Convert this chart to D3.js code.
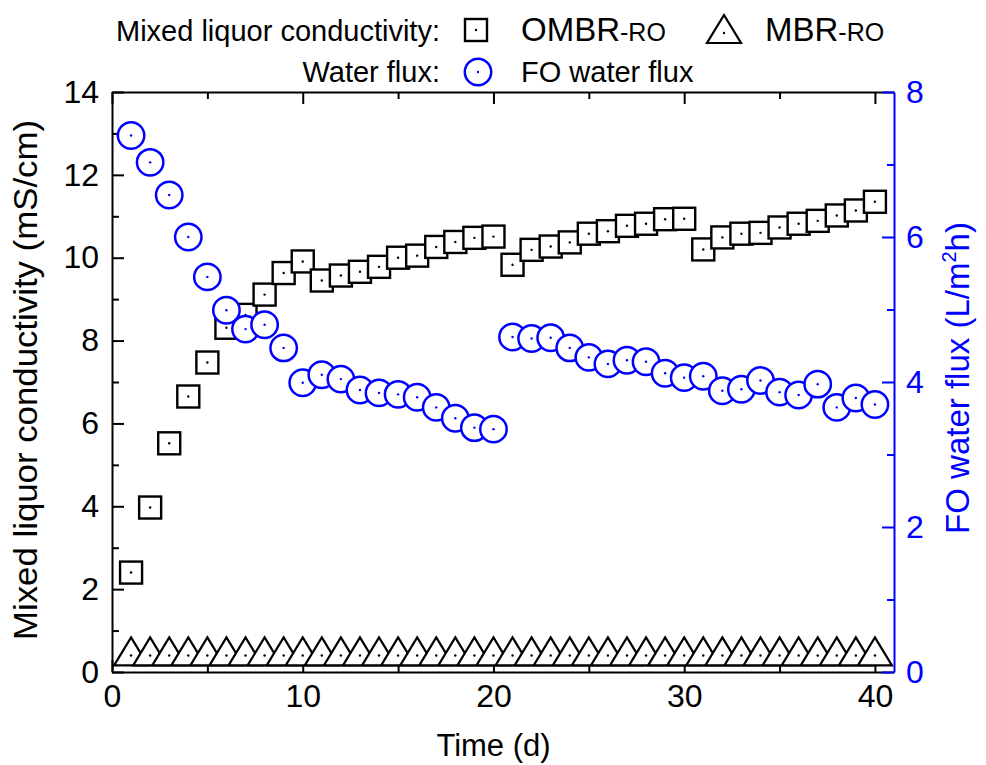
<!DOCTYPE html>
<html>
<head>
  <title>Mixed liquor conductivity and FO water flux</title>
</head>

<style>
  body { margin: 0; background: #fff; }
  text { font-family: "Liberation Sans", Arial, sans-serif; }
</style>

<body>

  <svg width="986" height="765" id="chart">
    <g id="legend"></g>
    <g id="axes"></g>
    <g id="marks"></g>
  </svg>

  <script src="https://cdnjs.cloudflare.com/ajax/libs/d3/7.8.5/d3.min.js"></script>

  <script>

// time in days
const days = [1, 2, 3, 4, 5, 6, 7, 8, 9, 10, 11, 12, 13, 14, 15, 16, 17, 18, 19, 20,
              21, 22, 23, 24, 25, 26, 27, 28, 29, 30, 31, 32, 33, 34, 35, 36, 37, 38, 39, 40];

// mixed liquor conductivity, mS/cm
const ombrCond = [2.40, 3.97, 5.52, 6.65, 7.47, 8.31, 8.62, 9.11, 9.63, 9.91,
                  9.45, 9.57, 9.66, 9.78, 10.00, 10.05, 10.26, 10.38, 10.48, 10.51,
                  9.83, 10.19, 10.27, 10.37, 10.58, 10.64, 10.77, 10.82, 10.93, 10.94,
                  10.20, 10.49, 10.58, 10.60, 10.73, 10.82, 10.89, 11.02, 11.14, 11.35];
const mbrCond = [0.40, 0.40, 0.40, 0.40, 0.40, 0.40, 0.40, 0.40, 0.40, 0.40,
                 0.40, 0.40, 0.40, 0.40, 0.40, 0.40, 0.40, 0.40, 0.40, 0.40,
                 0.40, 0.40, 0.40, 0.40, 0.40, 0.40, 0.40, 0.40, 0.40, 0.40,
                 0.40, 0.40, 0.40, 0.40, 0.40, 0.40, 0.40, 0.40, 0.40, 0.40];

// FO water flux, L/m2h
const foFlux = [7.40, 7.03, 6.58, 6.00, 5.45, 4.99, 4.73, 4.79, 4.47, 3.99,
                4.10, 4.04, 3.89, 3.85, 3.83, 3.79, 3.65, 3.50, 3.37, 3.35,
                4.62, 4.60, 4.61, 4.47, 4.34, 4.25, 4.30, 4.28, 4.12, 4.06,
                4.08, 3.88, 3.90, 4.02, 3.86, 3.82, 3.97, 3.65, 3.78, 3.69];

// ticks
const xMajor = [0, 10, 20, 30, 40];
const xMinor = [5, 15, 25, 35];
const yLeftMajor = [0, 2, 4, 6, 8, 10, 12, 14];
const yLeftMinor = [1, 3, 5, 7, 9, 11, 13];
const yRightMajor = [0, 2, 4, 6, 8];
const yRightMinor = [1, 3, 5, 7];

const blue = "#0000ff";
const plotL = 112, plotR = 894, plotT = 92, plotB = 672;

let svg = d3.select("#chart");
let axes = svg.select("#axes");
let marks = svg.select("#marks");

let x = d3.scaleLinear().domain([0, 41]).range([plotL, plotR]);
let yL = d3.scaleLinear().domain([0, 14]).range([plotB, plotT]);
let yR = d3.scaleLinear().domain([0, 8]).range([plotB, plotT]);

// draws one axis: major ticks with labels, minor ticks without
function drawAxis(axisFn, scale, major, minor, pos, color, pad) {
  let g = axes.append("g").attr("transform", pos);
  g.call(axisFn(scale).tickValues(major).tickSizeInner(-12).tickSizeOuter(0).tickPadding(pad));
  g.append("g").call(axisFn(scale).tickValues(minor).tickSizeInner(-7).tickSizeOuter(0).tickFormat(""))
    .select(".domain").remove();
  g.selectAll("path, line").attr("stroke", color).attr("stroke-width", 2);
  g.selectAll("text").attr("fill", color).attr("font-size", 32)
    .attr("font-family", '"Liberation Sans", Arial, sans-serif');
  return g;
}

drawAxis(d3.axisBottom, x, xMajor, xMinor, `translate(0,${plotB})`, "#000", 12);
drawAxis(d3.axisTop, x, xMajor, xMinor, `translate(0,${plotT})`, "#000", 12)
  .selectAll("text").remove();
drawAxis(d3.axisLeft, yL, yLeftMajor, yLeftMinor, `translate(${plotL},0)`, "#000", 13);
drawAxis(d3.axisRight, yR, yRightMajor, yRightMinor, `translate(${plotR},0)`, blue, 12);

// axis titles
axes.append("text")
  .attr("transform", `translate(${(plotL + 875) / 2},756)`)
  .attr("text-anchor", "middle").attr("font-size", 31)
  .text("Time (d)");

axes.append("text")
  .attr("transform", "translate(37,380) rotate(-90)")
  .attr("text-anchor", "middle").attr("font-size", 33)
  .attr("textLength", 520).attr("lengthAdjust", "spacingAndGlyphs")
  .text("Mixed liquor conductivity (mS/cm)");

let rt = axes.append("text")
  .attr("transform", "translate(969,378) rotate(-90)")
  .attr("text-anchor", "middle").attr("font-size", 33)
  .attr("fill", blue);
rt.append("tspan").text("FO water flux (L/m");
rt.append("tspan").attr("font-size", 20).attr("dy", -13).text("2");
rt.append("tspan").attr("dy", 13).text("h)");

// marker shapes
function square(g, cx, cy, color) {
  g.append("rect").attr("x", cx - 11).attr("y", cy - 11).attr("width", 22).attr("height", 22)
    .attr("fill", "#fff").attr("stroke", color).attr("stroke-width", 2.4);
  dot(g, cx, cy, color);
}
function triangle(g, cx, cy, color) {
  g.append("path").attr("d", `M${cx},${cy - 18}L${cx + 17},${cy + 10}L${cx - 17},${cy + 10}Z`)
    .attr("fill", "#fff").attr("stroke", color).attr("stroke-width", 2.2).attr("stroke-linejoin", "miter");
  dot(g, cx, cy, color);
}
function circle(g, cx, cy, color) {
  g.append("circle").attr("cx", cx).attr("cy", cy).attr("r", 13.2)
    .attr("fill", "#fff").attr("stroke", color).attr("stroke-width", 2.5);
  dot(g, cx, cy, color);
}
function dot(g, cx, cy, color) {
  g.append("circle").attr("cx", cx).attr("cy", cy).attr("r", 1.2).attr("fill", color);
}

let triG = marks.append("g");
days.forEach(function(d, i) { triangle(triG, x(d), yL(mbrCond[i]), "#000"); });
let sqG = marks.append("g");
days.forEach(function(d, i) { square(sqG, x(d), yL(ombrCond[i]), "#000"); });
let cirG = marks.append("g");
days.forEach(function(d, i) { circle(cirG, x(d), yR(foFlux[i]), blue); });

// legend
let legend = svg.select("#legend");
legend.append("text").attr("x", 440).attr("y", 41).attr("text-anchor", "end")
  .attr("font-size", 29).text("Mixed liquor conductivity:");
square(legend, 476, 30, "#000");
let l1 = legend.append("text").attr("x", 521).attr("y", 41).attr("font-size", 33);
l1.append("tspan").text("OMBR");
l1.append("tspan").attr("font-size", 25).text("-RO");
triangle(legend, 724, 33, "#000");
let l2 = legend.append("text").attr("x", 765).attr("y", 41).attr("font-size", 33);
l2.append("tspan").text("MBR");
l2.append("tspan").attr("font-size", 25).text("-RO");

legend.append("text").attr("x", 440).attr("y", 82).attr("text-anchor", "end")
  .attr("font-size", 29).text("Water flux:");
circle(legend, 478, 72, blue);
legend.append("text").attr("x", 521).attr("y", 82).attr("font-size", 29).text("FO water flux");

  </script>
</body>
</html>
